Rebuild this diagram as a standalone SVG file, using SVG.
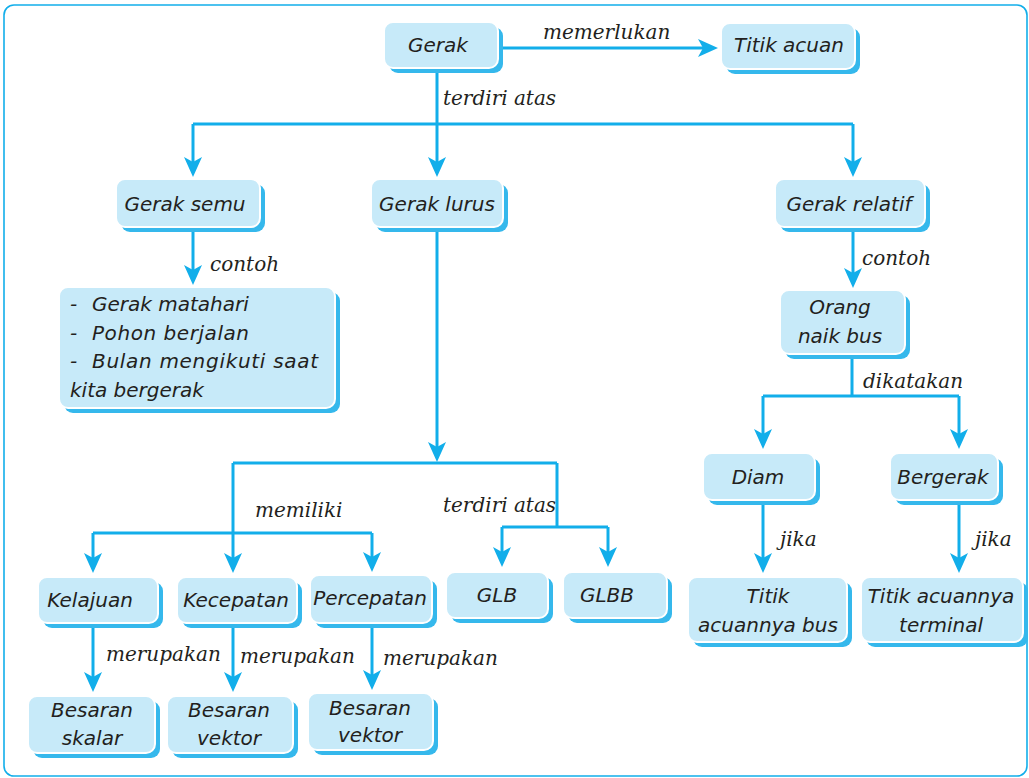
<svg xmlns="http://www.w3.org/2000/svg" width="1029" height="778" viewBox="0 0 1029 778">
<defs>
<marker id="ah" viewBox="0 0 20 18" refX="12" refY="9" markerWidth="20" markerHeight="18" markerUnits="userSpaceOnUse" orient="auto">
<path d="M0,0 L20,9 L0,18 L5,9 z" fill="#12aeea"/>
</marker>
<style>
.sh{fill:#35b8ec}
.bx{fill:#c7eaf9;stroke:#ffffff;stroke-width:2}
.t{font-family:"DejaVu Sans",sans-serif;font-style:italic;font-size:20px;fill:#231f20;text-anchor:middle}
.tl{font-family:"DejaVu Sans",sans-serif;font-style:italic;font-size:20px;fill:#231f20}
.lb{font-family:"DejaVu Serif",serif;font-style:italic;font-size:20px;fill:#231f20}
.ln{fill:none;stroke:#12aeea;stroke-width:3}
.ar{fill:none;stroke:#12aeea;stroke-width:3;marker-end:url(#ah)}
</style>
</defs>
<rect x="4" y="5" width="1023" height="771" rx="10" fill="#ffffff" stroke="#12aeea" stroke-width="1.6"/>

<g id="connectors">
<path class="ar" d="M500,48 H710"/>
<path class="ln" d="M437,72 V124 M193,124 H853"/>
<path class="ar" d="M193,124 V169"/>
<path class="ar" d="M437,124 V169"/>
<path class="ar" d="M853,124 V169"/>
<path class="ar" d="M193,232 V277"/>
<path class="ar" d="M853,232 V280"/>
<path class="ln" d="M852,358 V396 M763,396 H959"/>
<path class="ar" d="M763,396 V441"/>
<path class="ar" d="M959,396 V441"/>
<path class="ar" d="M763,505 V565"/>
<path class="ar" d="M959,505 V565"/>
<path class="ar" d="M437,232 V454"/>
<path class="ln" d="M233,463 H557 M93,533 H372 M557,463 V527 M502,527 H608"/>
<path class="ar" d="M233,463 V565"/>
<path class="ar" d="M93,533 V565"/>
<path class="ar" d="M372,533 V564"/>
<path class="ar" d="M502,527 V559"/>
<path class="ar" d="M608,527 V559"/>
<path class="ar" d="M93,628 V684"/>
<path class="ar" d="M233,628 V684"/>
<path class="ar" d="M372,628 V682"/>
</g>

<g id="labels">
<text class="lb" x="543" y="39">memerlukan</text>
<text class="lb" x="443" y="105">terdiri atas</text>
<text class="lb" x="210" y="271">contoh</text>
<text class="lb" x="862" y="265">contoh</text>
<text class="lb" x="863" y="388">dikatakan</text>
<text class="lb" x="780" y="546">jika</text>
<text class="lb" x="975" y="546">jika</text>
<text class="lb" x="255" y="517">memiliki</text>
<text class="lb" x="443" y="512">terdiri atas</text>
<text class="lb" x="106" y="661">merupakan</text>
<text class="lb" x="240" y="663">merupakan</text>
<text class="lb" x="383" y="665">merupakan</text>
</g>

<g id="gerak"><rect class="sh" x="389" y="27" width="114" height="46" rx="9"/><rect class="bx" x="384" y="22" width="114" height="46" rx="9"/><text class="t" x="438" y="52">Gerak</text></g>
<g id="titik-acuan"><rect class="sh" x="726" y="28" width="134" height="46" rx="9"/><rect class="bx" x="721" y="23" width="134" height="46" rx="9"/><text class="t" x="789" y="52">Titik acuan</text></g>
<g id="gerak-semu"><rect class="sh" x="121" y="184" width="144" height="48" rx="9"/><rect class="bx" x="116" y="179" width="144" height="48" rx="9"/><text class="t" x="185" y="211">Gerak semu</text></g>
<g id="gerak-lurus"><rect class="sh" x="376" y="184" width="132" height="48" rx="9"/><rect class="bx" x="371" y="179" width="132" height="48" rx="9"/><text class="t" x="437" y="211">Gerak lurus</text></g>
<g id="gerak-relatif"><rect class="sh" x="780" y="184" width="150" height="48" rx="9"/><rect class="bx" x="775" y="179" width="150" height="48" rx="9"/><text class="t" x="849" y="211">Gerak relatif</text></g>
<g id="contoh-semu"><rect class="sh" x="64" y="292" width="276" height="121" rx="9"/><rect class="bx" x="59" y="287" width="276" height="121" rx="9"/>
<text class="tl" x="70" y="311">-</text><text class="tl" x="92" y="311">Gerak matahari</text>
<text class="tl" x="70" y="340">-</text><text class="tl" x="92" y="340" textLength="157" lengthAdjust="spacing">Pohon berjalan</text>
<text class="tl" x="70" y="368">-</text><text class="tl" x="92" y="368" textLength="226" lengthAdjust="spacing">Bulan mengikuti saat</text>
<text class="tl" x="70" y="397">kita bergerak</text></g>
<g id="orang-naik-bus"><rect class="sh" x="785" y="295" width="125" height="64" rx="9"/><rect class="bx" x="780" y="290" width="125" height="64" rx="9"/><text class="t" x="840" y="314">Orang</text><text class="t" x="840" y="343">naik bus</text></g>
<g id="diam"><rect class="sh" x="708" y="458" width="112" height="47" rx="9"/><rect class="bx" x="703" y="453" width="112" height="47" rx="9"/><text class="t" x="758" y="484">Diam</text></g>
<g id="bergerak"><rect class="sh" x="895" y="458" width="108" height="47" rx="9"/><rect class="bx" x="890" y="453" width="108" height="47" rx="9"/><text class="t" x="943" y="484">Bergerak</text></g>
<g id="titik-acuannya-bus"><rect class="sh" x="693" y="582" width="159" height="65" rx="9"/><rect class="bx" x="688" y="577" width="159" height="65" rx="9"/><text class="t" x="768" y="603">Titik</text><text class="t" x="768" y="632">acuannya bus</text></g>
<g id="titik-acuannya-terminal"><rect class="sh" x="866" y="582" width="162" height="65" rx="9"/><rect class="bx" x="861" y="577" width="162" height="65" rx="9"/><text class="t" x="941" y="603">Titik acuannya</text><text class="t" x="941" y="632">terminal</text></g>
<g id="kelajuan"><rect class="sh" x="43" y="582" width="120" height="46" rx="9"/><rect class="bx" x="38" y="577" width="120" height="46" rx="9"/><text class="t" x="90" y="607">Kelajuan</text></g>
<g id="kecepatan"><rect class="sh" x="182" y="582" width="120" height="46" rx="9"/><rect class="bx" x="177" y="577" width="120" height="46" rx="9"/><text class="t" x="236" y="607">Kecepatan</text></g>
<g id="percepatan"><rect class="sh" x="315" y="580" width="122" height="48" rx="9"/><rect class="bx" x="310" y="575" width="122" height="48" rx="9"/><text class="t" x="370" y="605">Percepatan</text></g>
<g id="glb"><rect class="sh" x="451" y="577" width="102" height="46" rx="9"/><rect class="bx" x="446" y="572" width="102" height="46" rx="9"/><text class="t" x="497" y="602">GLB</text></g>
<g id="glbb"><rect class="sh" x="568" y="577" width="104" height="46" rx="9"/><rect class="bx" x="563" y="572" width="104" height="46" rx="9"/><text class="t" x="607" y="602">GLBB</text></g>
<g id="besaran-skalar"><rect class="sh" x="33" y="701" width="127" height="57" rx="9"/><rect class="bx" x="28" y="696" width="127" height="57" rx="9"/><text class="t" x="92" y="717">Besaran</text><text class="t" x="92" y="745">skalar</text></g>
<g id="besaran-vektor-1"><rect class="sh" x="172" y="701" width="126" height="57" rx="9"/><rect class="bx" x="167" y="696" width="126" height="57" rx="9"/><text class="t" x="229" y="717">Besaran</text><text class="t" x="229" y="745">vektor</text></g>
<g id="besaran-vektor-2"><rect class="sh" x="313" y="698" width="125" height="57" rx="9"/><rect class="bx" x="308" y="693" width="125" height="57" rx="9"/><text class="t" x="370" y="715">Besaran</text><text class="t" x="370" y="742">vektor</text></g>
</svg>
